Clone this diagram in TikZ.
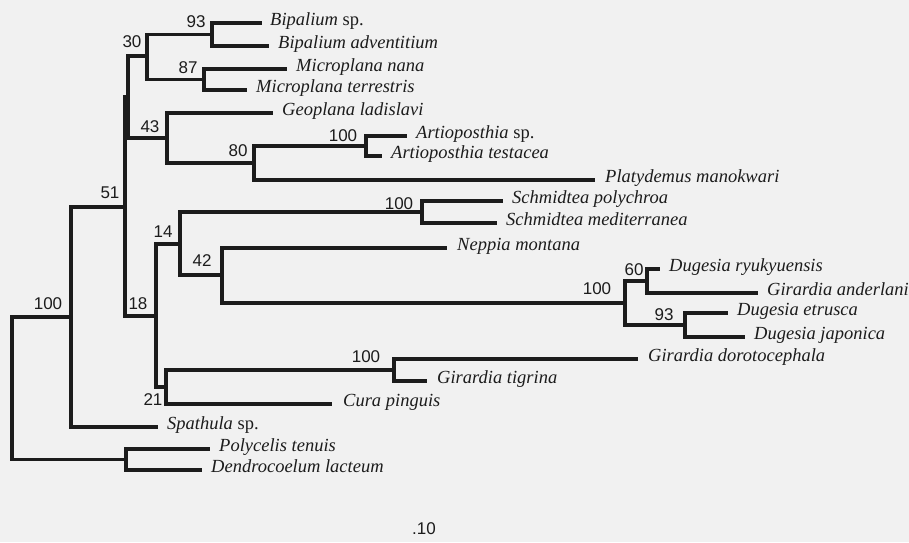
\documentclass[tikz,border=0pt]{standalone}
\usepackage{fontspec}
\setmainfont{Liberation Serif}
\newfontfamily\bsfont{Liberation Sans}
\usetikzlibrary{positioning}
\definecolor{paper}{RGB}{241,241,241}
\definecolor{ink}{RGB}{28,28,28}

\begin{document}
\begin{tikzpicture}[x=1pt, y=-1pt,
  branch/.style={line width=3.2pt, draw=ink, line join=miter},
  taxon/.style={inner sep=0pt, text height=0.7em, text depth=0.25em, text=ink,
                font=\fontsize{18.5}{20}\selectfont\itshape},
  boot/.style={inner sep=0pt, text=ink, font=\bsfont\fontsize{17}{18}\selectfont}]

\fill[paper] (0,0) rectangle (909,542);
\useasboundingbox (0,0) rectangle (909,542);

% internal nodes
\coordinate (root)  at ( 12,388);
\coordinate (n100a) at ( 71,317);
\coordinate (n51)   at (125,207);
\coordinate (nTP)   at (128, 97);
\coordinate (n30)   at (147, 56);
\coordinate (n93a)  at (212, 34.5);
\coordinate (n87)   at (204, 79.5);
\coordinate (n43)   at (167,138);
\coordinate (n80)   at (254,163);
\coordinate (n100b) at (366,146);
\coordinate (n18)   at (156,316);
\coordinate (n14)   at (180,244);
\coordinate (n100c) at (422,212);
\coordinate (n42)   at (222,275);
\coordinate (n100d) at (625,303);
\coordinate (n60)   at (647,281);
\coordinate (n93b)  at (685,325);
\coordinate (n21)   at (166,387);
\coordinate (n100e) at (394,370);
\coordinate (nPD)   at (126,459.5);

% tips
\coordinate (tBipSp)  at (262, 23);
\coordinate (tBipAd)  at (269, 46);
\coordinate (tMicNa)  at (287, 69);
\coordinate (tMicTe)  at (247, 90);
\coordinate (tGeoLa)  at (273,113);
\coordinate (tArtSp)  at (407,136);
\coordinate (tArtTe)  at (382,156);
\coordinate (tPlaMa)  at (595,180);
\coordinate (tSchPo)  at (503,201);
\coordinate (tSchMe)  at (497,223);
\coordinate (tNepMo)  at (447,248);
\coordinate (tDugRy)  at (660,269);
\coordinate (tGirAn)  at (758,293);
\coordinate (tDugEt)  at (728,313);
\coordinate (tDugJa)  at (745,337);
\coordinate (tGirDo)  at (638,359);
\coordinate (tGirTi)  at (427,381);
\coordinate (tCurPi)  at (332,404);
\coordinate (tSpaSp)  at (158,427);
\coordinate (tPolTe)  at (210,449);
\coordinate (tDenLa)  at (202,470);

\begin{scope}[branch]
\path[draw] (root)  |- (n100a);
\path[draw] (root)  |- (nPD);
\path[draw] (n100a) |- (n51);
\path[draw] (n100a) |- (tSpaSp);
\path[draw] (n51)   |- (nTP);
\path[draw] (n51)   |- (n18);
\path[draw] (nTP)   |- (n30);
\path[draw] (nTP)   |- (n43);
\path[draw] (n30)   |- (n93a);
\path[draw] (n30)   |- (n87);
\path[draw] (n93a)  |- (tBipSp);
\path[draw] (n93a)  |- (tBipAd);
\path[draw] (n87)   |- (tMicNa);
\path[draw] (n87)   |- (tMicTe);
\path[draw] (n43)   |- (tGeoLa);
\path[draw] (n43)   |- (n80);
\path[draw] (n80)   |- (n100b);
\path[draw] (n80)   |- (tPlaMa);
\path[draw] (n100b) |- (tArtSp);
\path[draw] (n100b) |- (tArtTe);
\path[draw] (n18)   |- (n14);
\path[draw] (n18)   |- (n21);
\path[draw] (n14)   |- (n100c);
\path[draw] (n14)   |- (n42);
\path[draw] (n100c) |- (tSchPo);
\path[draw] (n100c) |- (tSchMe);
\path[draw] (n42)   |- (tNepMo);
\path[draw] (n42)   |- (n100d);
\path[draw] (n100d) |- (n60);
\path[draw] (n100d) |- (n93b);
\path[draw] (n60)   |- (tDugRy);
\path[draw] (n60)   |- (tGirAn);
\path[draw] (n93b)  |- (tDugEt);
\path[draw] (n93b)  |- (tDugJa);
\path[draw] (n21)   |- (n100e);
\path[draw] (n21)   |- (tCurPi);
\path[draw] (n100e) |- (tGirDo);
\path[draw] (n100e) |- (tGirTi);
\path[draw] (nPD)   |- (tPolTe);
\path[draw] (nPD)   |- (tDenLa);
\end{scope}

\begin{scope}[taxon]
\node[right=8pt of tBipSp] (BipSp) {Bipalium \textup{sp.}};
\node[right=9pt of tBipAd] (BipAd) {Bipalium adventitium};
\node[right=9pt of tMicNa] (MicNa) {Microplana nana};
\node[right=9pt of tMicTe] (MicTe) {Microplana terrestris};
\node[right=9pt of tGeoLa] (GeoLa) {Geoplana ladislavi};
\node[right=9pt of tArtSp] (ArtSp) {Artioposthia \textup{sp.}};
\node[right=9pt of tArtTe] (ArtTe) {Artioposthia testacea};
\node[right=10pt of tPlaMa] (PlaMa) {Platydemus manokwari};
\node[right=9pt of tSchPo] (SchPo) {Schmidtea polychroa};
\node[right=9pt of tSchMe] (SchMe) {Schmidtea mediterranea};
\node[right=10pt of tNepMo] (NepMo) {Neppia montana};
\node[right=9pt of tDugRy] (DugRy) {Dugesia ryukyuensis};
\node[right=9pt of tGirAn] (GirAn) {Girardia anderlani};
\node[right=9pt of tDugEt] (DugEt) {Dugesia etrusca};
\node[right=9pt of tDugJa] (DugJa) {Dugesia japonica};
\node[right=10pt of tGirDo] (GirDo) {Girardia dorotocephala};
\node[right=10pt of tGirTi] (GirTi) {Girardia tigrina};
\node[right=11pt of tCurPi] (CurPi) {Cura pinguis};
\node[right=9pt of tSpaSp] (SpaSp) {Spathula \textup{sp.}};
\node[right=9pt of tPolTe] (PolTe) {Polycelis tenuis};
\node[right=9pt of tDenLa] (DenLa) {Dendrocoelum lacteum};
\end{scope}

% bootstrap values
\begin{scope}[boot]
\node (b100a) at ( 48,304) {100};
\node (b51)   at (110,193) {51};
\node (b30)   at (132, 42) {30};
\node (b93a)  at (196, 22) {93};
\node (b87)   at (188, 68) {87};
\node (b43)   at (150,127) {43};
\node (b80)   at (238,151) {80};
\node (b100b) at (343,136) {100};
\node (b14)   at (163,232) {14};
\node (b18)   at (138,304) {18};
\node (b42)   at (202,261) {42};
\node (b100c) at (399,204) {100};
\node (b100d) at (597,289) {100};
\node (b60)   at (634,270) {60};
\node (b93b)  at (664,315) {93};
\node (b100e) at (366,357) {100};
\node (b21)   at (153,400) {21};
\node (scale) at (424,529) {.10};
\end{scope}

\end{tikzpicture}
\end{document}
